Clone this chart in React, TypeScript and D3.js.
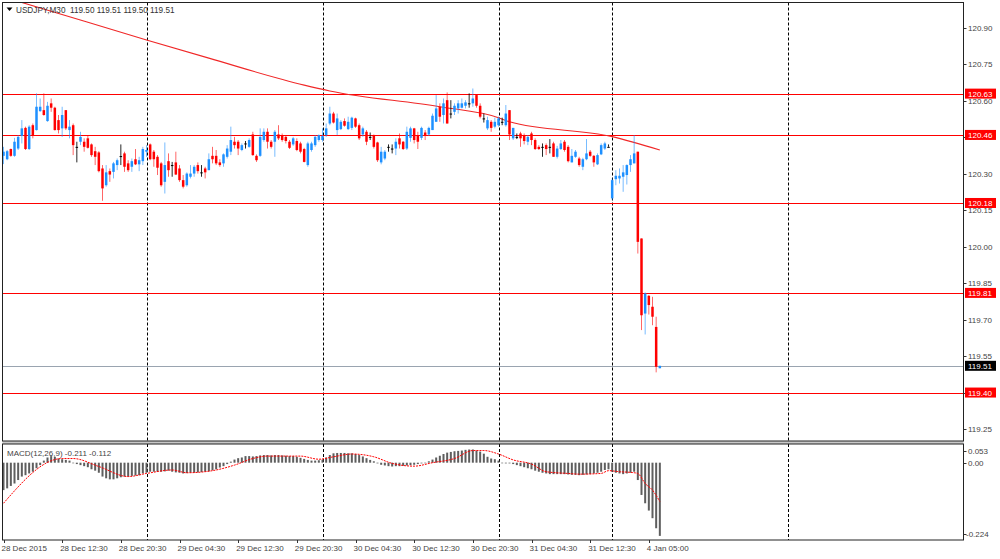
import React, { useEffect, useRef } from "react";
import * as d3 from "d3";

// ---------- DATA ----------
const symbolHeader = "USDJPY,M30  119.50 119.51 119.50 119.51";
const macdHeader = "MACD(12,26,9) -0.211 -0.112";

const openP = [
  120.374, 120.360, 120.402, 120.374, 120.404, 120.456, 120.489, 120.402, 120.500, 120.480,
  120.558, 120.562, 120.517, 120.590, 120.572, 120.521, 120.487, 120.562, 120.480, 120.500,
  120.411, 120.432, 120.432, 120.446, 120.421, 120.393, 120.388, 120.322, 120.253, 120.311,
  120.308, 120.336, 120.373, 120.384, 120.343, 120.329, 120.360, 120.339, 120.352, 120.391,
  120.421, 120.391, 120.370, 120.343, 120.267, 120.352, 120.336, 120.347, 120.322, 120.274,
  120.253, 120.288, 120.301, 120.336, 120.306, 120.322, 120.315, 120.374, 120.374, 120.347,
  120.343, 120.370, 120.391, 120.432, 120.432, 120.398, 120.425, 120.411, 120.462, 120.374,
  120.374, 120.439, 120.473, 120.432, 120.432, 120.462, 120.459, 120.452, 120.432, 120.421,
  120.435, 120.425, 120.402, 120.336, 120.398, 120.418, 120.439, 120.439, 120.459, 120.507,
  120.548, 120.480, 120.484, 120.517, 120.484, 120.489, 120.528, 120.500, 120.462, 120.473,
  120.452, 120.459, 120.429, 120.347, 120.363, 120.411, 120.404, 120.404, 120.446, 120.432,
  120.404, 120.448, 120.487, 120.459, 120.448, 120.470, 120.462, 120.480, 120.514, 120.576,
  120.542, 120.603, 120.548, 120.555, 120.569, 120.572, 120.580, 120.590, 120.590, 120.624,
  120.580, 120.528, 120.487, 120.514, 120.494, 120.500, 120.514, 120.500, 120.562, 120.446,
  120.452, 120.466, 120.459, 120.432, 120.466, 120.439, 120.411, 120.411, 120.418, 120.411,
  120.425, 120.370, 120.402, 120.432, 120.411, 120.347, 120.370, 120.363, 120.329, 120.360,
  120.391, 120.374, 120.339, 120.380, 120.404, 120.411, 120.199, 120.278, 120.281, 120.288,
  120.295, 120.336, 120.343, 120.391, 120.034, 119.725, 119.798, 119.753, 119.670, 119.500,
];
const highP = [
  120.411, 120.398, 120.404, 120.448, 120.459, 120.521, 120.494, 120.500, 120.507, 120.631,
  120.610, 120.631, 120.596, 120.610, 120.576, 120.542, 120.576, 120.562, 120.521, 120.507,
  120.432, 120.473, 120.446, 120.459, 120.425, 120.411, 120.393, 120.336, 120.336, 120.322,
  120.349, 120.363, 120.421, 120.391, 120.356, 120.363, 120.402, 120.370, 120.411, 120.418,
  120.425, 120.398, 120.377, 120.349, 120.429, 120.384, 120.349, 120.391, 120.336, 120.295,
  120.306, 120.336, 120.336, 120.347, 120.336, 120.329, 120.384, 120.411, 120.398, 120.360,
  120.384, 120.418, 120.494, 120.452, 120.439, 120.425, 120.435, 120.446, 120.473, 120.380,
  120.487, 120.487, 120.487, 120.439, 120.480, 120.500, 120.466, 120.459, 120.439, 120.452,
  120.446, 120.432, 120.407, 120.432, 120.432, 120.459, 120.462, 120.487, 120.507, 120.576,
  120.555, 120.548, 120.521, 120.528, 120.535, 120.535, 120.531, 120.507, 120.494, 120.480,
  120.470, 120.462, 120.432, 120.411, 120.398, 120.421, 120.421, 120.446, 120.466, 120.435,
  120.494, 120.494, 120.489, 120.473, 120.494, 120.480, 120.494, 120.548, 120.624, 120.590,
  120.610, 120.635, 120.603, 120.590, 120.603, 120.610, 120.603, 120.631, 120.651, 120.627,
  120.590, 120.548, 120.535, 120.521, 120.531, 120.535, 120.531, 120.583, 120.562, 120.489,
  120.466, 120.473, 120.466, 120.459, 120.473, 120.446, 120.418, 120.425, 120.425, 120.443,
  120.432, 120.415, 120.439, 120.439, 120.418, 120.402, 120.398, 120.370, 120.366, 120.443,
  120.398, 120.377, 120.384, 120.425, 120.432, 120.421, 120.281, 120.315, 120.322, 120.336,
  120.339, 120.377, 120.459, 120.391, 120.034, 119.812, 119.801, 119.794, 119.712, 119.510,
];
const lowP = [
  120.340, 120.356, 120.370, 120.370, 120.398, 120.425, 120.398, 120.398, 120.446, 120.478,
  120.555, 120.539, 120.514, 120.555, 120.478, 120.466, 120.452, 120.480, 120.446, 120.377,
  120.347, 120.418, 120.391, 120.404, 120.370, 120.336, 120.306, 120.189, 120.247, 120.267,
  120.281, 120.315, 120.336, 120.308, 120.308, 120.308, 120.336, 120.311, 120.336, 120.370,
  120.356, 120.329, 120.295, 120.247, 120.219, 120.288, 120.288, 120.295, 120.267, 120.240,
  120.247, 120.281, 120.288, 120.301, 120.288, 120.281, 120.315, 120.343, 120.336, 120.329,
  120.329, 120.363, 120.377, 120.404, 120.377, 120.393, 120.404, 120.407, 120.374, 120.349,
  120.370, 120.432, 120.404, 120.404, 120.370, 120.439, 120.432, 120.425, 120.402, 120.415,
  120.393, 120.384, 120.347, 120.329, 120.391, 120.411, 120.432, 120.432, 120.452, 120.500,
  120.507, 120.459, 120.480, 120.494, 120.480, 120.480, 120.489, 120.439, 120.452, 120.418,
  120.439, 120.404, 120.349, 120.339, 120.356, 120.391, 120.384, 120.377, 120.404, 120.398,
  120.398, 120.432, 120.425, 120.402, 120.439, 120.439, 120.456, 120.480, 120.514, 120.514,
  120.507, 120.507, 120.528, 120.542, 120.548, 120.569, 120.569, 120.572, 120.576, 120.572,
  120.528, 120.511, 120.480, 120.473, 120.487, 120.494, 120.500, 120.494, 120.439, 120.439,
  120.443, 120.411, 120.421, 120.418, 120.418, 120.398, 120.398, 120.370, 120.377, 120.384,
  120.370, 120.363, 120.398, 120.391, 120.347, 120.347, 120.366, 120.329, 120.315, 120.356,
  120.370, 120.329, 120.336, 120.377, 120.398, 120.411, 120.192, 120.253, 120.260, 120.226,
  120.256, 120.308, 120.343, 119.972, 119.657, 119.639, 119.721, 119.677, 119.483, 119.500,
];
const closeP = [
  120.391, 120.393, 120.374, 120.432, 120.452, 120.487, 120.402, 120.494, 120.459, 120.576,
  120.576, 120.542, 120.580, 120.572, 120.480, 120.480, 120.542, 120.487, 120.494, 120.418,
  120.411, 120.452, 120.411, 120.407, 120.377, 120.370, 120.311, 120.240, 120.306, 120.297,
  120.343, 120.356, 120.373, 120.329, 120.315, 120.352, 120.339, 120.356, 120.402, 120.398,
  120.360, 120.360, 120.325, 120.253, 120.336, 120.315, 120.336, 120.297, 120.274, 120.247,
  120.301, 120.301, 120.329, 120.311, 120.306, 120.306, 120.360, 120.360, 120.343, 120.336,
  120.380, 120.404, 120.439, 120.418, 120.404, 120.418, 120.425, 120.439, 120.377, 120.356,
  120.452, 120.473, 120.432, 120.411, 120.473, 120.446, 120.439, 120.435, 120.407, 120.446,
  120.398, 120.391, 120.349, 120.425, 120.425, 120.452, 120.459, 120.456, 120.487, 120.548,
  120.511, 120.528, 120.514, 120.498, 120.514, 120.531, 120.494, 120.446, 120.487, 120.432,
  120.452, 120.411, 120.356, 120.391, 120.391, 120.411, 120.404, 120.432, 120.421, 120.402,
  120.473, 120.487, 120.439, 120.432, 120.489, 120.456, 120.489, 120.539, 120.569, 120.535,
  120.590, 120.507, 120.548, 120.580, 120.590, 120.590, 120.594, 120.590, 120.610, 120.580,
  120.535, 120.528, 120.521, 120.489, 120.514, 120.528, 120.514, 120.548, 120.462, 120.489,
  120.452, 120.446, 120.435, 120.452, 120.439, 120.402, 120.402, 120.411, 120.402, 120.411,
  120.370, 120.404, 120.425, 120.398, 120.352, 120.374, 120.391, 120.336, 120.360, 120.384,
  120.374, 120.347, 120.377, 120.418, 120.425, 120.411, 120.274, 120.292, 120.292, 120.306,
  120.336, 120.360, 120.384, 120.020, 119.718, 119.808, 119.760, 119.712, 119.506, 119.510,
];

// moving average line, read at selected bars
const maIdx = [0, 5, 39, 56, 82, 89, 119, 135, 138, 166, 179];
const maVal = [121.027, 121.005, 120.851, 120.776, 120.665, 120.641, 120.576, 120.531, 120.514, 120.453, 120.398];

// MACD main (histogram), one per bar
const macdMain = [
  -0.079, -0.074, -0.067, -0.060, -0.050, -0.040, -0.036, -0.031, -0.026, -0.016,
  -0.007, 0.006, 0.015, 0.019, 0.017, 0.012, 0.010, 0.008, 0.006, -0.001,
  -0.004, -0.007, -0.010, -0.013, -0.019, -0.023, -0.029, -0.040, -0.045, -0.048,
  -0.048, -0.045, -0.042, -0.040, -0.040, -0.038, -0.037, -0.036, -0.031, -0.029,
  -0.026, -0.026, -0.026, -0.026, -0.025, -0.023, -0.026, -0.028, -0.029, -0.031,
  -0.030, -0.029, -0.029, -0.028, -0.027, -0.026, -0.025, -0.022, -0.019, -0.014,
  -0.010, -0.004, 0.003, 0.009, 0.013, 0.015, 0.019, 0.019, 0.018, 0.019,
  0.021, 0.022, 0.022, 0.021, 0.022, 0.022, 0.021, 0.020, 0.019, 0.019,
  0.017, 0.014, 0.011, 0.008, 0.006, 0.006, 0.007, 0.009, 0.015, 0.022,
  0.027, 0.028, 0.028, 0.028, 0.027, 0.027, 0.025, 0.022, 0.018, 0.013,
  0.008, 0.004, -0.002, -0.006, -0.008, -0.010, -0.011, -0.010, -0.010, -0.009,
  -0.008, -0.007, -0.006, -0.004, -0.002, 0.000, 0.004, 0.009, 0.015, 0.020,
  0.025, 0.029, 0.031, 0.033, 0.034, 0.035, 0.037, 0.038, 0.038, 0.035,
  0.032, 0.026, 0.017, 0.012, 0.010, 0.006, 0.000, -0.002, -0.002, -0.004,
  -0.007, -0.010, -0.013, -0.016, -0.019, -0.023, -0.026, -0.029, -0.031, -0.033,
  -0.033, -0.033, -0.033, -0.033, -0.034, -0.035, -0.035, -0.036, -0.035, -0.034,
  -0.033, -0.031, -0.029, -0.026, -0.021, -0.019, -0.026, -0.029, -0.031, -0.033,
  -0.031, -0.029, -0.026, -0.050, -0.093, -0.117, -0.138, -0.160, -0.189, -0.211,
];

// MACD signal line, read at selected bars
const sigIdx = [0, 16, 19, 26, 34, 39, 46, 50, 57, 63, 68, 72, 81, 86, 90, 95, 101, 106, 112, 117, 123, 128, 131, 135, 139, 144, 148, 154, 157, 163, 165, 168, 172, 173, 175, 177, 179];
const sigVal = [-0.117, 0.012, 0.012, -0.011, -0.040, -0.031, -0.021, -0.029, -0.023, -0.007, 0.012, 0.019, 0.019, 0.010, 0.017, 0.025, 0.017, -0.002, -0.010, 0.000, 0.012, 0.035, 0.035, 0.025, 0.008, -0.004, -0.026, -0.031, -0.033, -0.031, -0.023, -0.026, -0.029, -0.031, -0.060, -0.079, -0.112];

const priceTicks = [119.25, 119.40, 119.55, 119.70, 119.85, 120.00, 120.15, 120.30, 120.45, 120.60, 120.75, 120.90];
const levels = [120.63, 120.46, 120.18, 119.81, 119.40];
const bidPrice = 119.51;

const timeTickIdx = [0, 16, 32, 48, 64, 80, 96, 112, 128, 144, 160, 176];
const timeTickLabels = [
  "28 Dec 2015", "28 Dec 12:30", "28 Dec 20:30", "29 Dec 04:30", "29 Dec 12:30", "29 Dec 20:30",
  "30 Dec 04:30", "30 Dec 12:30", "30 Dec 20:30", "31 Dec 04:30", "31 Dec 12:30", "4 Jan 05:00",
];
const daySeparatorIdx = [39, 87, 135, 166, 214];

const macdAxisVals = [0.053, 0.0, -0.224];
const macdAxisLabels = ["0.053", "0.00", "-0.224"];

// ---------- CHART ----------
export default function App() {
  const ref = useRef<SVGSVGElement>(null);

  useEffect(() => {
    const svg = d3.select(ref.current);
    svg.selectAll("*").remove();
    const FONT = "'Liberation Sans', Arial, sans-serif";

    const L = 2.5, R = 963.5, MT = 2.5, MB = 441, ST = 444, SB = 540;

    const x = d3.scaleLinear().domain([0, 48]).range([3.5, 179.5]);
    const y = d3.scaleLinear().domain([119.25, 120.9]).range([429, 28]);
    const ym = d3.scaleLinear().domain([-0.224, 0.053]).range([540.4, 444.3]);

    svg.append("rect").attr("width", 1000).attr("height", 559).attr("fill", "#fff");

    const defs = svg.append("defs");
    defs.append("clipPath").attr("id", "cMain").append("rect")
      .attr("x", L).attr("y", MT).attr("width", R - L).attr("height", MB - MT);
    defs.append("clipPath").attr("id", "cSub").append("rect")
      .attr("x", L).attr("y", ST).attr("width", R - L).attr("height", SB - ST);

    // gap between panels
    svg.append("rect").attr("x", L).attr("y", MB).attr("width", R - L).attr("height", ST - MB)
      .attr("fill", "#c8c8c8");

    // ---- main panel ----
    const gm = svg.append("g").attr("clip-path", "url(#cMain)");

    gm.selectAll("line.sep").data(daySeparatorIdx).join("line")
      .attr("x1", (d) => Math.round(x(d)) + 0.5).attr("x2", (d) => Math.round(x(d)) + 0.5)
      .attr("y1", MT).attr("y2", MB)
      .attr("stroke", "#000").attr("stroke-width", 1).attr("stroke-dasharray", "3,2");

    gm.selectAll("line.lvl").data(levels).join("line")
      .attr("x1", L).attr("x2", R)
      .attr("y1", (d) => Math.round(y(d)) + 0.5).attr("y2", (d) => Math.round(y(d)) + 0.5)
      .attr("stroke", "#ff0000").attr("stroke-width", 1);

    gm.append("line")
      .attr("x1", L).attr("x2", R)
      .attr("y1", Math.round(y(bidPrice)) + 0.5).attr("y2", Math.round(y(bidPrice)) + 0.5)
      .attr("stroke", "#9aa4b0").attr("stroke-width", 1);

    const maLine = d3.line<number>().x((d) => x(maIdx[d])).y((d) => y(maVal[d]))
      .curve(d3.curveMonotoneX);
    gm.append("path").attr("d", maLine(d3.range(maIdx.length)))
      .attr("fill", "none").attr("stroke", "#f02828").attr("stroke-width", 1.1);

    const idx = d3.range(openP.length);
    const colorOf = (i: number) =>
      closeP[i] > openP[i] ? "#1e90ff" : closeP[i] < openP[i] ? "#ff0000" : "#000000";

    const candles = gm.selectAll("g.c").data(idx).join("g");
    candles.append("line")
      .attr("x1", (i) => x(i)).attr("x2", (i) => x(i))
      .attr("y1", (i) => y(highP[i])).attr("y2", (i) => y(lowP[i]))
      .attr("stroke", (i) => colorOf(i)).attr("stroke-width", 1)
      .attr("stroke-opacity", (i) => (colorOf(i) === "#000000" ? 0.85 : 0.6));
    candles.append("rect")
      .attr("x", (i) => x(i) - 1.25).attr("width", 2.5)
      .attr("y", (i) => y(Math.max(openP[i], closeP[i])))
      .attr("height", (i) => Math.max(1, Math.abs(y(openP[i]) - y(closeP[i]))))
      .attr("fill", (i) => colorOf(i));

    // ---- MACD panel ----
    const gs = svg.append("g").attr("clip-path", "url(#cSub)");
    gs.selectAll("line.sep").data(daySeparatorIdx).join("line")
      .attr("x1", (d) => Math.round(x(d)) + 0.5).attr("x2", (d) => Math.round(x(d)) + 0.5)
      .attr("y1", ST).attr("y2", SB)
      .attr("stroke", "#000").attr("stroke-width", 1).attr("stroke-dasharray", "3,2");

    gs.selectAll("rect.h").data(idx).join("rect")
      .attr("x", (i) => x(i) - 1).attr("width", 2)
      .attr("y", (i) => Math.min(ym(0), ym(macdMain[i])))
      .attr("height", (i) => Math.max(0.6, Math.abs(ym(macdMain[i]) - ym(0))))
      .attr("fill", "#5e5e5e");

    const sigLine = d3.line<number>().x((d) => x(sigIdx[d])).y((d) => ym(sigVal[d]))
      .curve(d3.curveMonotoneX);
    gs.append("path").attr("d", sigLine(d3.range(sigIdx.length)))
      .attr("fill", "none").attr("stroke", "#ff0000").attr("stroke-width", 1)
      .attr("stroke-dasharray", "2,1");

    // ---- frames ----
    svg.append("rect").attr("x", L).attr("y", MT).attr("width", R - L).attr("height", MB - MT)
      .attr("fill", "none").attr("stroke", "#222").attr("stroke-width", 1);
    svg.append("rect").attr("x", L).attr("y", ST).attr("width", R - L).attr("height", SB - ST)
      .attr("fill", "none").attr("stroke", "#222").attr("stroke-width", 1);

    // ---- price axis ----
    const pa = svg.append("g");
    pa.selectAll("line").data(priceTicks).join("line")
      .attr("x1", R).attr("x2", R + 3)
      .attr("y1", (d) => Math.round(y(d)) + 0.5).attr("y2", (d) => Math.round(y(d)) + 0.5)
      .attr("stroke", "#333");
    pa.selectAll("text").data(priceTicks).join("text")
      .attr("x", 968).attr("y", (d) => y(d) + 3)
      .attr("font-family", FONT).attr("font-size", 8).attr("fill", "#444")
      .text((d) => d.toFixed(2));

    // MACD axis
    const ma = svg.append("g");
    const macdLabelY = [ym(0.053) + 6.5, ym(0), ym(-0.224) - 6];
    ma.selectAll("line").data(macdAxisVals).join("line")
      .attr("x1", R).attr("x2", R + 3)
      .attr("y1", (_d, k) => Math.round(macdLabelY[k]) + 0.5)
      .attr("y2", (_d, k) => Math.round(macdLabelY[k]) + 0.5)
      .attr("stroke", "#333");
    ma.selectAll("text").data(macdAxisLabels).join("text")
      .attr("x", (d) => (d.startsWith("-") ? 966 : 968))
      .attr("y", (_d, k) => macdLabelY[k] + 3)
      .attr("font-family", FONT).attr("font-size", 8).attr("fill", "#444")
      .text((d) => d);

    // level labels
    const lab = svg.append("g");
    const allLabels = levels.map((v) => ({ v, bg: "#ff0000" })).concat([{ v: bidPrice, bg: "#000000" }]);
    lab.selectAll("rect").data(allLabels).join("rect")
      .attr("x", 965).attr("y", (d) => y(d.v) - 5).attr("width", 31).attr("height", 10)
      .attr("fill", (d) => d.bg);
    lab.selectAll("text").data(allLabels).join("text")
      .attr("x", 968).attr("y", (d) => y(d.v) + 3)
      .attr("font-family", FONT).attr("font-size", 8).attr("fill", "#fff")
      .text((d) => d.v.toFixed(2));

    // ---- time axis ----
    const ta = svg.append("g");
    ta.selectAll("line").data(timeTickIdx).join("line")
      .attr("x1", (d) => Math.round(x(d)) + 0.5).attr("x2", (d) => Math.round(x(d)) + 0.5)
      .attr("y1", SB).attr("y2", SB + 3)
      .attr("stroke", "#333");
    ta.selectAll("text").data(timeTickIdx).join("text")
      .attr("x", (d) => x(d) - 2).attr("y", 551)
      .attr("font-family", FONT).attr("font-size", 8).attr("fill", "#444")
      .text((_d, k) => timeTickLabels[k]);

    // ---- headers ----
    svg.append("path").attr("d", "M6.5,7.5 L12.5,7.5 L9.5,11 Z").attr("fill", "#000");
    svg.append("text").attr("x", 16).attr("y", 12.5)
      .attr("font-family", FONT).attr("font-size", 8.2).attr("fill", "#333")
      .attr("xml:space", "preserve").style("white-space", "pre")
      .text(symbolHeader);
    svg.append("text").attr("x", 7).attr("y", 455.5)
      .attr("font-family", FONT).attr("font-size", 8).attr("fill", "#444")
      .text(macdHeader);
  }, []);

  return (
    <svg
      ref={ref}
      width={1000}
      height={559}
      style={{ position: "absolute", left: 0, top: 0, display: "block" }}
    />
  );
}
